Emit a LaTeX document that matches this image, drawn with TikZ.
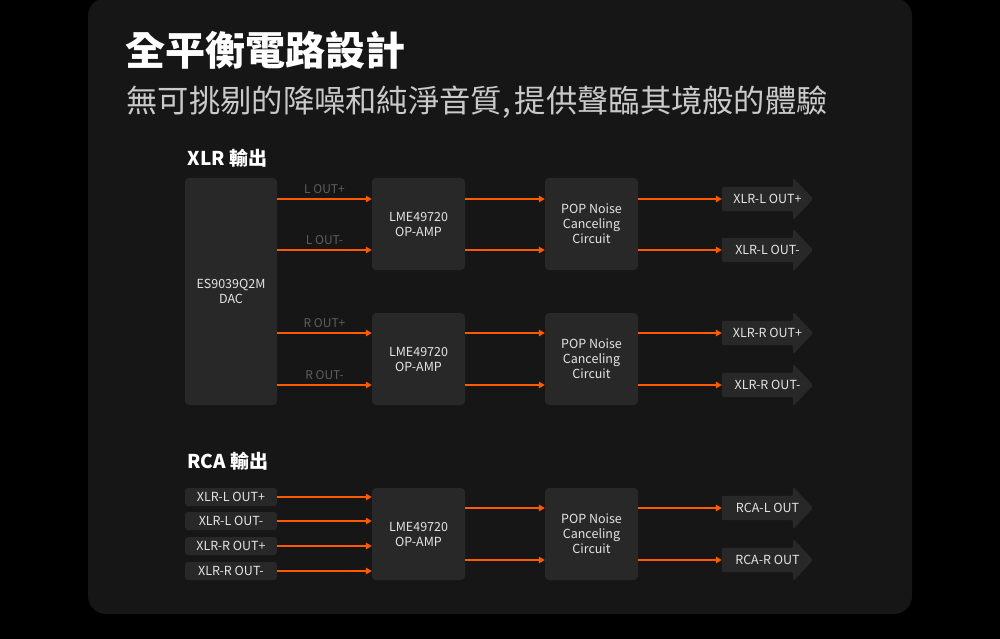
\documentclass[tikz,border=0pt]{standalone}
\usepackage{fontspec}
\setmainfont{Noto Sans CJK TC}
\usetikzlibrary{arrows.meta}
\pgfdeclarelayer{background}
\pgfsetlayers{background,main}
\definecolor{panelgray}{HTML}{161616}
\definecolor{boxgray}{HTML}{282828}
\definecolor{sigorange}{HTML}{FF5A00}
\definecolor{lblgray}{HTML}{5E5E5E}
\definecolor{boxtext}{HTML}{E4E4E4}
\definecolor{subgray}{HTML}{CACACA}

\begin{document}
\begin{tikzpicture}[x=1pt, y=-1pt,
		every node/.style={font=\fontsize{12.5}{15}\selectfont, text=boxtext, align=center},
		blk/.style={fill=boxgray, rounded corners=4pt, minimum width=93pt, minimum height=92pt, inner sep=0pt},
		inbox/.style={fill=boxgray, rounded corners=3pt, minimum width=92pt, minimum height=18pt, inner sep=0pt},
		sig/.style={draw=sigorange, line width=1.8pt, -{Triangle[length=6pt,width=6.5pt]}},
		lbl/.style={text=lblgray, font=\fontsize{12}{14}\selectfont},
		outp/.style={minimum width=91pt, minimum height=24pt, inner sep=0pt},
		heading/.style={anchor=west, text=white, font=\fontsize{19}{22}\selectfont\bfseries}]
		\useasboundingbox (0,0) rectangle (1000,639);

		% Background
		\begin{pgfonlayer}{background}
			\fill[black] (0,0) rectangle (1000,639);
			\fill[panelgray, rounded corners=18pt] (88,-2) rectangle (912,614);
		\end{pgfonlayer}

		% Titles
		\node[anchor=west, text=white, font=\fontsize{40}{48}\selectfont\bfseries] (title) at (122,50) {全平衡電路設計};
		\node[anchor=west, text=subgray, font=\fontsize{31.3}{38}\selectfont] (subtitle) at (123,102) {無可挑剔的降噪和純淨音質,\hspace{4pt}提供聲臨其境般的體驗};
		\node[heading] (xlrhead) at (184,158) {XLR 輸出};
		\node[heading] (rcahead) at (184,461) {RCA 輸出};

		% XLR blocks
		\node[blk, minimum width=92pt, minimum height=227pt] (dac) at (231,291.5) {ES9039Q2M\\DAC};
		\node[blk] (opl) at (418.5,224) {LME49720\\OP-AMP};
		\node[blk] (popl) at (591.5,224) {POP Noise\\Canceling\\Circuit};
		\node[blk] (opr) at (418.5,359) {LME49720\\OP-AMP};
		\node[blk] (popr) at (591.5,359) {POP Noise\\Canceling\\Circuit};

		% XLR outputs
		\node[outp] (xlp) at (767.5,199) {XLR-L OUT+};
		\node[outp] (xlm) at (767.5,250) {XLR-L OUT-};
		\node[outp] (xrp) at (767.5,333) {XLR-R OUT+};
		\node[outp] (xrm) at (767.5,385) {XLR-R OUT-};

		% XLR signals
		\draw[sig] (dac.east |- 0,199) -- node[lbl, above=1pt] {L OUT+} (opl.west |- 0,199);
		\draw[sig] (dac.east |- 0,250) -- node[lbl, above=1pt] {L OUT-} (opl.west |- 0,250);
		\draw[sig] (dac.east |- 0,333) -- node[lbl, above=1pt] {R OUT+} (opr.west |- 0,333);
		\draw[sig] (dac.east |- 0,385) -- node[lbl, above=1pt] {R OUT-} (opr.west |- 0,385);
		\foreach \out in {xlp,xlm} {
			\draw[sig] (opl.east |- \out.west) -- (popl.west |- \out.west);
			\draw[sig] (popl.east |- \out.west) -- (\out.west);
		}
		\foreach \out in {xrp,xrm} {
			\draw[sig] (opr.east |- \out.west) -- (popr.west |- \out.west);
			\draw[sig] (popr.east |- \out.west) -- (\out.west);
		}

		% RCA blocks
		\node[inbox] (inlp) at (231,497) {XLR-L OUT+};
		\node[inbox] (inlm) at (231,521) {XLR-L OUT-};
		\node[inbox] (inrp) at (231,546) {XLR-R OUT+};
		\node[inbox] (inrm) at (231,571) {XLR-R OUT-};
		\node[blk] (oprca) at (418.5,534) {LME49720\\OP-AMP};
		\node[blk] (poprca) at (591.5,534) {POP Noise\\Canceling\\Circuit};
		\node[outp] (rcal) at (767.5,508) {RCA-L OUT};
		\node[outp] (rcar) at (767.5,560) {RCA-R OUT};

		% RCA signals
		\foreach \src in {inlp,inlm,inrp,inrm}
			\draw[sig] (\src.east) -- (oprca.west |- \src.east);
		\foreach \out in {rcal,rcar} {
			\draw[sig] (oprca.east |- \out.west) -- (poprca.west |- \out.west);
			\draw[sig] (poprca.east |- \out.west) -- (\out.west);
		}

		% Output arrow shapes
		\begin{pgfonlayer}{background}
			\foreach \out in {xlp,xlm,xrp,xrm,rcal,rcar}
				\fill[boxgray, rounded corners=2pt] (\out.north west) -- ([xshift=-20pt]\out.north east)
					-- ([xshift=-20pt,yshift=9pt]\out.north east) -- (\out.east)
					-- ([xshift=-20pt,yshift=-9pt]\out.south east) -- ([xshift=-20pt]\out.south east)
					-- (\out.south west) -- cycle;
		\end{pgfonlayer}
	\end{tikzpicture}
\end{document}
